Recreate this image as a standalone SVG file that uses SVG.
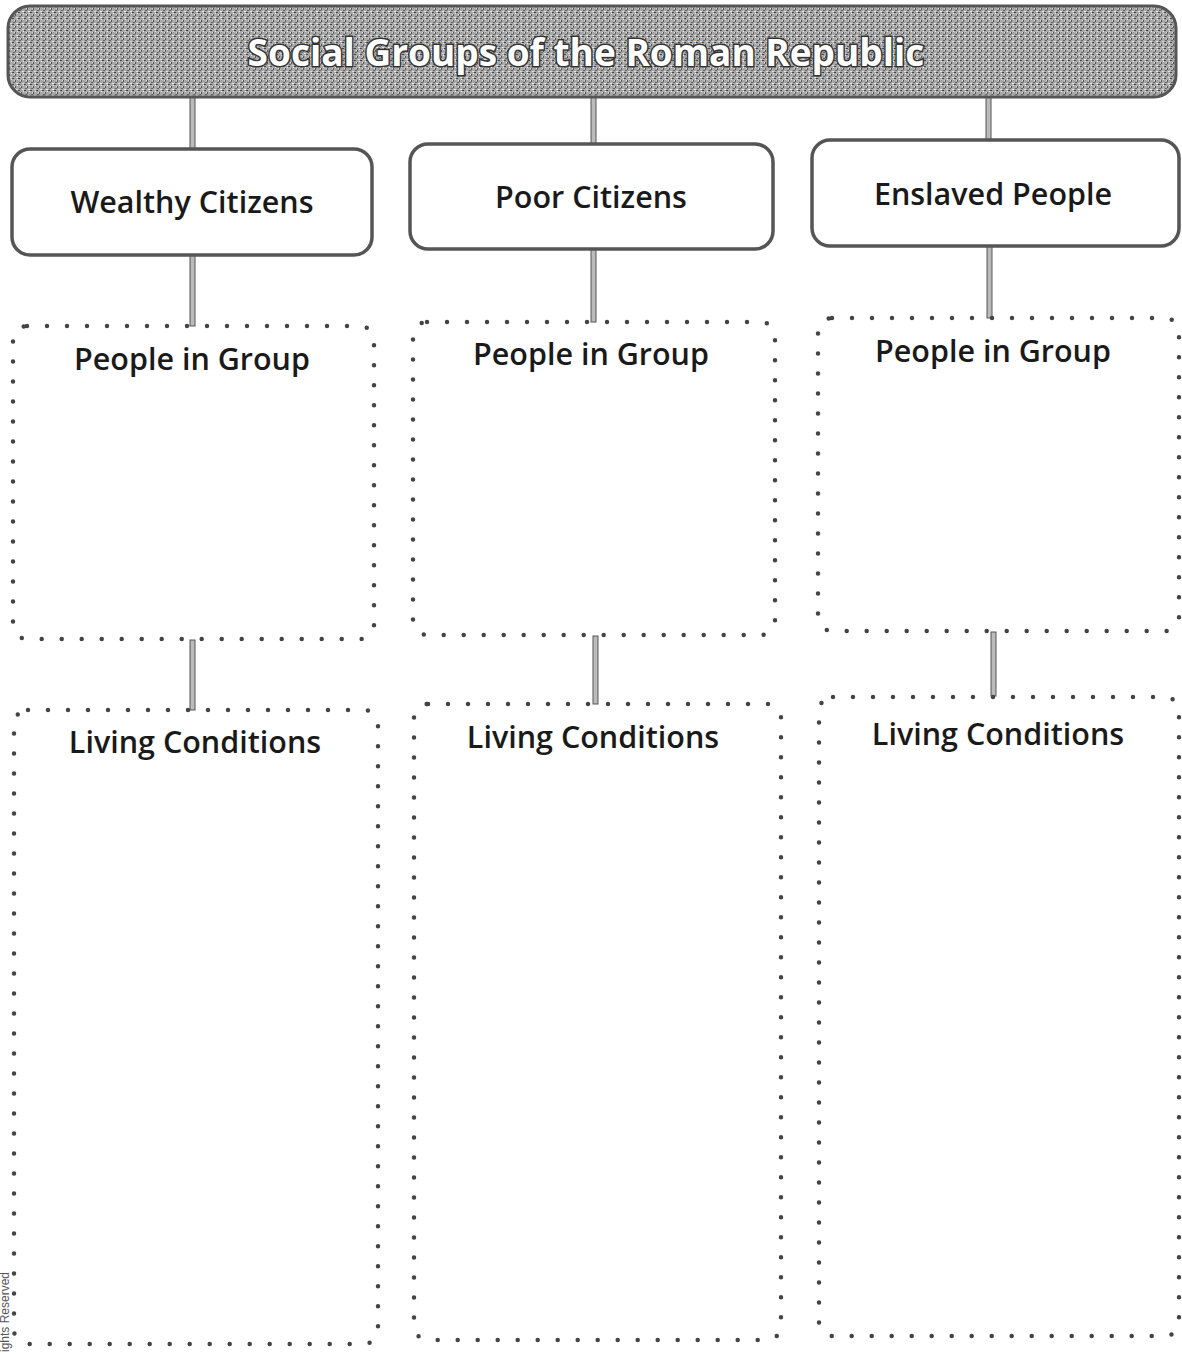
<svg xmlns="http://www.w3.org/2000/svg" width="1182" height="1356" viewBox="0 0 1182 1356">
<defs>
<pattern id="noise" width="6" height="6" patternUnits="userSpaceOnUse">
<rect width="6" height="6" fill="#a8a8a8"/>
<rect x="0" y="0" width="2" height="1" fill="#444"/>
<rect x="3" y="2" width="1" height="2" fill="#555"/>
<rect x="1" y="4" width="2" height="1" fill="#666"/>
<rect x="4" y="5" width="2" height="1" fill="#e0e0e0"/>
<rect x="5" y="1" width="1" height="1" fill="#eee"/>
<rect x="2" y="2" width="1" height="1" fill="#ddd"/>
</pattern>
</defs>
<style>
.bg{fill:#fff}
.title{fill:url(#noise);stroke:#555;stroke-width:3}
.titletext{font-family:"Open Sans",Lato,sans-serif;font-size:37px;font-weight:bold;fill:#fff;stroke:#333;stroke-width:3;paint-order:stroke;text-anchor:middle}
.head{fill:#fff;stroke:#555;stroke-width:3.5}
.headtext{font-family:"Open Sans",Lato,sans-serif;font-size:30.5px;font-weight:600;fill:#1a1a1a;text-anchor:middle}
.dots{fill:none;stroke:#444;stroke-width:4.5;stroke-linecap:round;stroke-dasharray:0 20}
.conn{fill:#bbb;stroke:#555;stroke-width:1}
.note{font-family:"Liberation Sans",Arial,sans-serif;font-size:12px;fill:#555}
</style>
<rect class="bg" width="1182" height="1356"/>

<g id="connectors">
<rect class="conn" x="190" y="97" width="5" height="52"/>
<rect class="conn" x="591" y="97" width="5" height="47"/>
<rect class="conn" x="986" y="97" width="5" height="43"/>
<rect class="conn" x="190" y="255" width="5" height="71"/>
<rect class="conn" x="591" y="249" width="5" height="73"/>
<rect class="conn" x="987" y="246" width="5" height="72"/>
<rect class="conn" x="190" y="640" width="5" height="70"/>
<rect class="conn" x="593" y="636" width="5" height="68"/>
<rect class="conn" x="991" y="632" width="5" height="64"/>
</g>

<g id="title">
<rect class="title" x="8" y="6" width="1168" height="91" rx="22"/>
<text class="titletext" x="586" y="66">Social Groups of the Roman Republic</text>
</g>

<g id="wealthy">
<rect class="head" x="12" y="149" width="360" height="106" rx="18"/>
<text class="headtext" x="192" y="213">Wealthy Citizens</text>
</g>
<g id="poor">
<rect class="head" x="410" y="144" width="363" height="105" rx="18"/>
<text class="headtext" x="591" y="208">Poor Citizens</text>
</g>
<g id="enslaved">
<rect class="head" x="812" y="140" width="367" height="106" rx="18"/>
<text class="headtext" x="993" y="205">Enslaved People</text>
</g>

<g id="people1">
<rect class="dots" x="13" y="326" width="361" height="313" rx="14"/>
<text class="headtext" x="192" y="370">People in Group</text>
</g>
<g id="people2">
<rect class="dots" x="413" y="322" width="362" height="313" rx="14"/>
<text class="headtext" x="591" y="365">People in Group</text>
</g>
<g id="people3">
<rect class="dots" x="818" y="318" width="361" height="313" rx="14"/>
<text class="headtext" x="993" y="362">People in Group</text>
</g>

<g id="living1">
<rect class="dots" x="14" y="710" width="364" height="634" rx="14"/>
<text class="headtext" x="195" y="753">Living Conditions</text>
</g>
<g id="living2">
<rect class="dots" x="414" y="704" width="367" height="636" rx="14"/>
<text class="headtext" x="593" y="748">Living Conditions</text>
</g>
<g id="living3">
<rect class="dots" x="819" y="697" width="360" height="639" rx="14"/>
<text class="headtext" x="998" y="745">Living Conditions</text>
</g>

<text class="note" transform="translate(9,1352) rotate(-90)">ights Reserved</text>
</svg>
